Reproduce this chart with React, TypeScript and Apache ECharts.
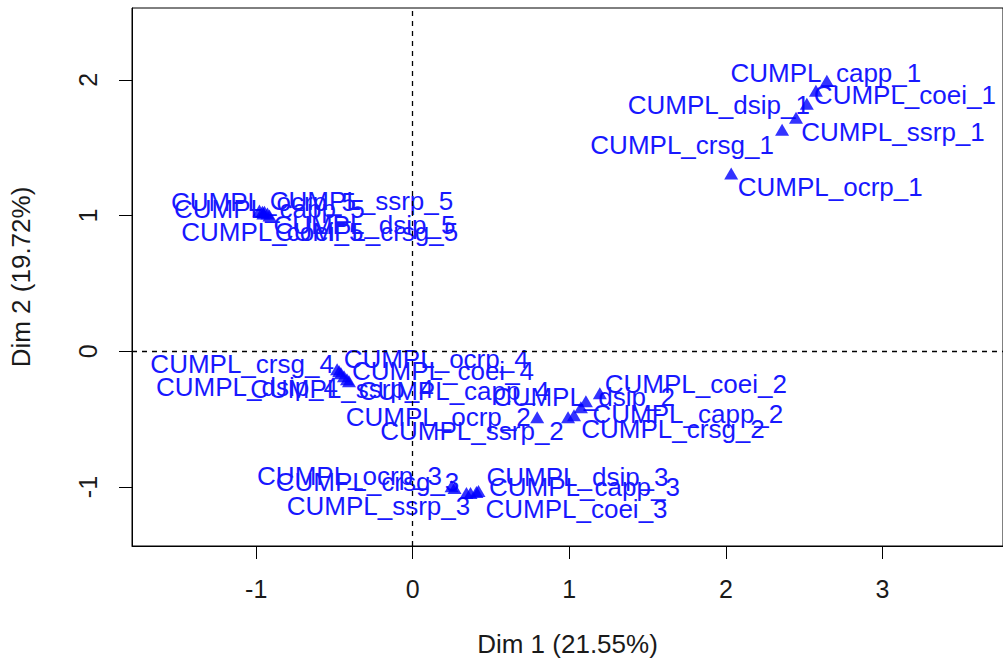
import React, { useEffect, useRef } from "react";
import * as echarts from "echarts";

const labels = [
  "CUMPL_capp_1", "CUMPL_coei_1", "CUMPL_crsg_1", "CUMPL_dsip_1", "CUMPL_ocrp_1", "CUMPL_ssrp_1",
  "CUMPL_capp_2", "CUMPL_coei_2", "CUMPL_crsg_2", "CUMPL_dsip_2", "CUMPL_ocrp_2", "CUMPL_ssrp_2",
  "CUMPL_capp_3", "CUMPL_coei_3", "CUMPL_crsg_3", "CUMPL_dsip_3", "CUMPL_ocrp_3", "CUMPL_ssrp_3",
  "CUMPL_capp_4", "CUMPL_coei_4", "CUMPL_crsg_4", "CUMPL_dsip_4", "CUMPL_ocrp_4", "CUMPL_ssrp_4",
  "CUMPL_capp_5", "CUMPL_coei_5", "CUMPL_crsg_5", "CUMPL_dsip_5", "CUMPL_ocrp_5", "CUMPL_ssrp_5",
];

const dim1 = [
  2.645, 2.575, 2.359, 2.517, 2.034, 2.448,
  1.074, 1.195, 1.03, 1.106, 0.795, 0.992,
  0.407, 0.369, 0.267, 0.42, 0.248, 0.343,
  -0.407, -0.458, -0.483, -0.439, -0.47, -0.42,
  -0.96, -0.954, -0.915, -0.928, -0.979, -0.947,
];

const dim2 = [
  1.993, 1.919, 1.632, 1.824, 1.309, 1.721,
  -0.412, -0.309, -0.471, -0.368, -0.485, -0.485,
  -1.037, -1.044, -1.007, -1.029, -0.993, -1.044,
  -0.221, -0.162, -0.132, -0.184, -0.147, -0.206,
  1.029, 1.015, 1.0, 1.015, 1.037, 1.029,
];

const xTicks = [-1, 0, 1, 2, 3];
const yTicks = [-1, 0, 1, 2];
const xTitle = "Dim 1 (21.55%)";
const yTitle = "Dim 2 (19.72%)";

// label placement offsets in pixels (layout only)
const labelOffsets: [number, number][] = [
  [-1, -8], [89, 4], [-100, 15], [-88, 1], [99, 13], [97, 14],
  [107, 7], [96, -9], [99, 14], [-2, -4], [-99, 0], [-96, 14],
  [108, -5], [106, 16], [-87, -6], [99, -14], [-102, -10], [-88, 13],
  [105, 10], [102, -2], [-95, -5], [-97, 11], [97, -12], [-5, 10],
  [7, -3], [9, 18], [97, 16], [97, 11], [4, -9], [97, -11],
];

const FONT = "Liberation Sans, Arial, sans-serif";
const BLUE = "#1818ff";

export default function App() {
  const ref = useRef<HTMLDivElement>(null);
  useEffect(() => {
    if (!ref.current) return;
    const chart = echarts.init(ref.current, undefined, { renderer: "svg" });
    const points = dim1.map((x, i) => [x, dim2[i], labels[i]]);
    chart.setOption({
      animation: false,
      backgroundColor: "#ffffff",
      grid: { left: 130, top: 8, right: -2, bottom: 115, show: true, borderColor: "#000", borderWidth: 1, backgroundColor: "transparent" },
      xAxis: {
        type: "value",
        min: -1.793,
        max: 3.77,
        name: xTitle,
        nameLocation: "middle",
        nameGap: 85,
        nameTextStyle: { fontFamily: FONT, fontSize: 26, color: "#1a1a1a", verticalAlign: "top" },
        axisLine: { show: true, onZero: false, lineStyle: { color: "#000", width: 1 } },
        axisTick: { show: true, length: 13, customValues: xTicks, lineStyle: { color: "#000" } },
        axisLabel: { customValues: xTicks, margin: 30, fontFamily: FONT, fontSize: 25, color: "#1a1a1a" },
        splitLine: { show: false },
      },
      yAxis: {
        type: "value",
        min: -1.434,
        max: 2.529,
        name: yTitle,
        nameLocation: "middle",
        nameGap: 98,
        nameTextStyle: { fontFamily: FONT, fontSize: 26, color: "#1a1a1a" },
        axisLine: { show: true, onZero: false, lineStyle: { color: "#000", width: 1 } },
        axisTick: { show: true, length: 13, customValues: yTicks, lineStyle: { color: "#000" } },
        axisLabel: { customValues: yTicks, rotate: 90, margin: 32, fontFamily: FONT, fontSize: 25, color: "#1a1a1a" },
        splitLine: { show: false },
      },
      series: [
        {
          type: "scatter",
          data: points,
          symbol: "triangle",
          symbolSize: [14, 12],
          itemStyle: { color: "#0000ff" },
          silent: true,
          markLine: {
            silent: true,
            symbol: "none",
            label: { show: false },
            lineStyle: { color: "#000", type: [5, 5], width: 1.3 },
            data: [{ xAxis: 0 }, { yAxis: 0 }],
          },
        },
        {
          type: "custom",
          data: points,
          silent: true,
          clip: false,
          renderItem: (params: any, api: any) => {
            const p = api.coord([api.value(0), api.value(1)]);
            const off = labelOffsets[params.dataIndex];
            return {
              type: "text",
              x: p[0] + off[0],
              y: p[1] + off[1],
              style: {
                text: labels[params.dataIndex],
                fill: BLUE,
                font: `26px ${FONT}`,
                align: "center",
                verticalAlign: "middle",
                textAlign: "center",
                textVerticalAlign: "middle",
              },
            };
          },
        },
      ],
    });
    return () => chart.dispose();
  }, []);
  return <div ref={ref} style={{ position: "fixed", left: 0, top: 0, width: 1003, height: 662 }} />;
}
